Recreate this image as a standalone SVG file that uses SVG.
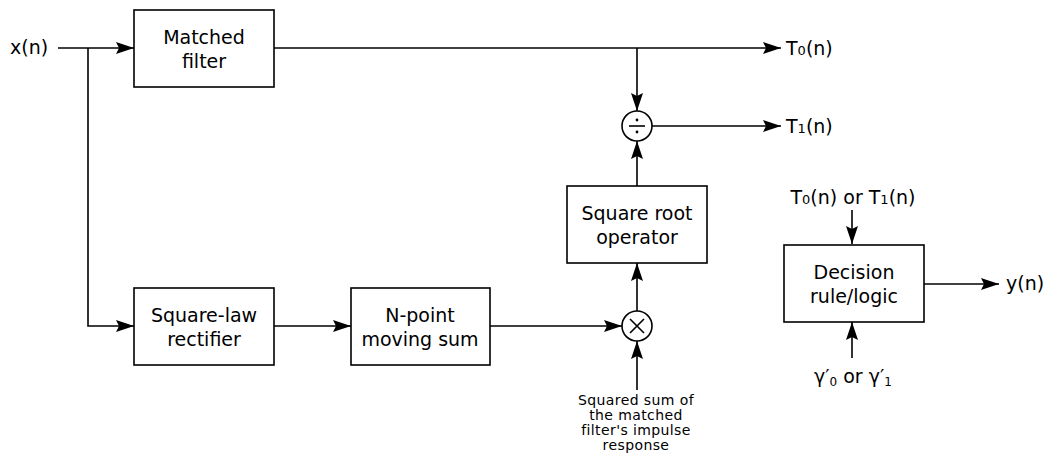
<svg xmlns="http://www.w3.org/2000/svg" width="1049" height="458" viewBox="0 0 1049 458">
  <style>
    .box { fill: #fff; stroke: #000; stroke-width: 1.6; }
    .op { fill: #fff; stroke: #000; stroke-width: 1.6; }
    .wire { fill: none; stroke: #000; stroke-width: 1.6; }
    .arr { fill: none; stroke: #000; stroke-width: 1.6; marker-end: url(#head); }
    text { font-family: "DejaVu Sans", "Liberation Sans", sans-serif; font-size: 19px; fill: #000; }
    .c { text-anchor: middle; }
    .small { font-size: 14px; letter-spacing: 0.4px; }
    .sub { font-size: 13px; }
    .gsub { font-size: 12px; }
  </style>
  <defs>
    <marker id="head" viewBox="0 0 18 12" refX="18" refY="6" markerWidth="18" markerHeight="12" markerUnits="userSpaceOnUse" orient="auto">
      <path d="M0,0 L18,6 L0,12 L3,6 Z" fill="#000"/>
    </marker>
  </defs>

  <g id="connectors">
    <path class="arr" d="M58,48 H134"/>
    <path class="arr" d="M88,48 V326 H134"/>
    <path class="arr" d="M274,48 H781"/>
    <path class="arr" d="M637,48 V111"/>
    <path class="arr" d="M652,126 H781"/>
    <path class="arr" d="M637,186 V141"/>
    <path class="arr" d="M637,311 V263"/>
    <path class="arr" d="M274,326 H351"/>
    <path class="arr" d="M490,326 H622"/>
    <path class="arr" d="M637,390 V341"/>
    <path class="arr" d="M852,210 V244"/>
    <path class="arr" d="M852,358 V322"/>
    <path class="arr" d="M924,284 H999"/>
  </g>

  <g id="input">
    <text x="10" y="54">x(n)</text>
  </g>

  <g id="matched-filter">
    <rect class="box" x="134" y="10" width="140" height="77"/>
    <text class="c" x="204" y="44">Matched</text>
    <text class="c" x="204" y="68">filter</text>
  </g>

  <g id="square-law">
    <rect class="box" x="134" y="288" width="140" height="77"/>
    <text class="c" x="204" y="322">Square-law</text>
    <text class="c" x="204" y="346">rectifier</text>
  </g>

  <g id="moving-sum">
    <rect class="box" x="351" y="288" width="139" height="77"/>
    <text class="c" x="420" y="322">N-point</text>
    <text class="c" x="420" y="346">moving sum</text>
  </g>

  <g id="multiplier">
    <circle class="op" cx="637" cy="326" r="15"/>
    <path class="wire" d="M630,319 L644,333 M644,319 L630,333"/>
  </g>

  <g id="sqrt-op">
    <rect class="box" x="567" y="186" width="140" height="77"/>
    <text class="c" x="637" y="220">Square root</text>
    <text class="c" x="637" y="244">operator</text>
  </g>

  <g id="divider">
    <circle class="op" cx="637" cy="126" r="15"/>
    <path class="wire" d="M629,126 H645"/>
    <circle cx="637" cy="120" r="1.4" fill="#000"/>
    <circle cx="637" cy="132" r="1.4" fill="#000"/>
  </g>

  <g id="out-t0">
    <text x="786" y="55">T<tspan class="sub">0</tspan>(n)</text>
  </g>

  <g id="out-t1">
    <text x="786" y="133">T<tspan class="sub">1</tspan>(n)</text>
  </g>

  <g id="energy-note">
    <text class="c small" x="636" y="405">Squared sum of</text>
    <text class="c small" x="636" y="420">the matched</text>
    <text class="c small" x="636" y="435">filter's impulse</text>
    <text class="c small" x="636" y="450">response</text>
  </g>

  <g id="decision">
    <rect class="box" x="784" y="245" width="140" height="77"/>
    <text class="c" x="854" y="279">Decision</text>
    <text class="c" x="854" y="303">rule/logic</text>
  </g>

  <g id="decision-in">
    <text class="c" x="853" y="204">T<tspan class="sub">0</tspan>(n) or T<tspan class="sub">1</tspan>(n)</text>
  </g>

  <g id="thresholds">
    <text x="814" y="383">γ′<tspan class="gsub" dy="3">0</tspan><tspan dy="-3"> or γ′</tspan><tspan class="gsub" dy="3">1</tspan></text>
  </g>

  <g id="output">
    <text x="1006" y="290">y(n)</text>
  </g>
</svg>
